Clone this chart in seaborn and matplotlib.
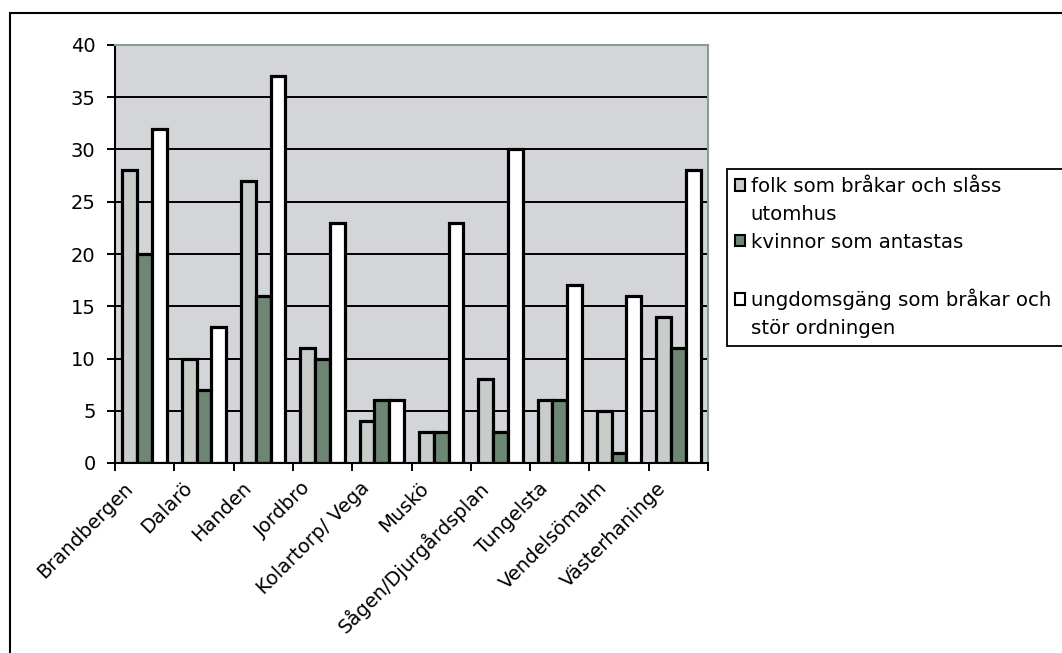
import pandas as pd
import seaborn as sns
from matplotlib import pyplot as plt
from matplotlib.patches import Patch, Rectangle
from matplotlib.transforms import ScaledTranslation

# Data
omraden = ["Brandbergen", "Dalarö", "Handen", "Jordbro", "Kolartorp/ Vega",
           "Muskö", "Sågen/Djurgårdsplan", "Tungelsta", "Vendelsömalm",
           "Västerhaninge"]
folk = [28, 10, 27, 11, 4, 3, 8, 6, 5, 14]
kvinnor = [20, 7, 16, 10, 6, 3, 3, 6, 1, 11]
ungdom = [32, 13, 37, 23, 6, 23, 30, 17, 16, 28]

series_names = ["folk som bråkar och slåss utomhus",
                "kvinnor som antastas",
                "ungdomsgäng som bråkar och stör ordningen"]
series_colors = ["#c8cdca", "#6e8775", "#ffffff"]

df = pd.DataFrame({
    "Område": omraden * 3,
    "Antal": folk + kvinnor + ungdom,
    "Serie": [s for s in series_names for _ in omraden],
})

sns.set_style("ticks")
plt.rcParams["font.family"] = ["DejaVu Sans"]
plt.rcParams["text.color"] = "black"
plt.rcParams["xtick.color"] = "black"
plt.rcParams["ytick.color"] = "black"

fig = plt.figure(figsize=(10.62, 6.53), dpi=100)
ax = fig.add_axes([115 / 1062, 1 - 463 / 653, 593 / 1062, 418 / 653])
ax.set_facecolor("#d3d5d8")

sns.barplot(
    data=df, x="Område", y="Antal", hue="Serie",
    order=omraden, hue_order=series_names,
    palette=dict(zip(series_names, series_colors)),
    saturation=1, width=0.75, gap=0,
    edgecolor="black", linewidth=2.3,
    legend=False, ax=ax,
)

ax.set_ylim(0, 40)
ax.set_xlim(-0.5, len(omraden) - 0.5)
ax.set_yticks(range(0, 41, 5))
ax.set_axisbelow(True)
ax.grid(axis="y", color="black", lw=1.4)
ax.grid(axis="x", visible=False)
ax.set_xlabel(None)
ax.set_ylabel(None)

# category boundaries as minor ticks, labels rotated under centers
ax.set_xticks([i - 0.5 for i in range(len(omraden) + 1)], minor=True)
ax.tick_params(axis="x", which="major", length=0, pad=16, labelsize=14)
ax.tick_params(axis="x", which="minor", length=6, width=1.4, color="black", direction="out")
ax.tick_params(axis="y", length=6, width=1.4, color="black", pad=8, labelsize=14)
ax.set_xticklabels(omraden, rotation=45, ha="right", va="center", rotation_mode="anchor")
for lbl in ax.get_xticklabels():
    lbl.set_transform(lbl.get_transform() + ScaledTranslation(-15 / 100, 0, fig.dpi_scale_trans))

for side in ["left", "bottom"]:
    ax.spines[side].set_color("black")
    ax.spines[side].set_linewidth(1.5)
for side in ["top", "right"]:
    ax.spines[side].set_visible(True)
    ax.spines[side].set_color("#8c9c94")
    ax.spines[side].set_linewidth(1.5)

# Legend laid out like the Excel one: marker on first line, blank row before last entry
blank = Patch(facecolor="none", edgecolor="none")
handles = [
    Patch(facecolor=series_colors[0], edgecolor="black", lw=1.5), blank,
    Patch(facecolor=series_colors[1], edgecolor="black", lw=1.5), blank,
    Patch(facecolor=series_colors[2], edgecolor="black", lw=1.5), blank,
]
labels = ["folk som bråkar och slåss", "utomhus", "kvinnor som antastas", " ",
          "ungdomsgäng som bråkar och  ", "stör ordningen"]
leg = fig.legend(
    handles, labels, loc="upper left",
    bbox_to_anchor=(727 / 1062, 1 - 169 / 653),
    fontsize=14.2, frameon=True, fancybox=False, framealpha=1,
    edgecolor="black", borderaxespad=0, borderpad=0.4,
    handlelength=0.5, handleheight=0.5, handletextpad=0.3,
    labelspacing=0.45,
)
leg.get_frame().set_linewidth(1.3)

# outer chart border (extends past the right and bottom of the scan)
fig.add_artist(Rectangle((10 / 1062, -0.02), 1.1, 1 - 13 / 653 + 0.02,
                         transform=fig.transFigure, fill=False,
                         edgecolor="black", lw=1.5))

plt.savefig("out.png", dpi=100)
